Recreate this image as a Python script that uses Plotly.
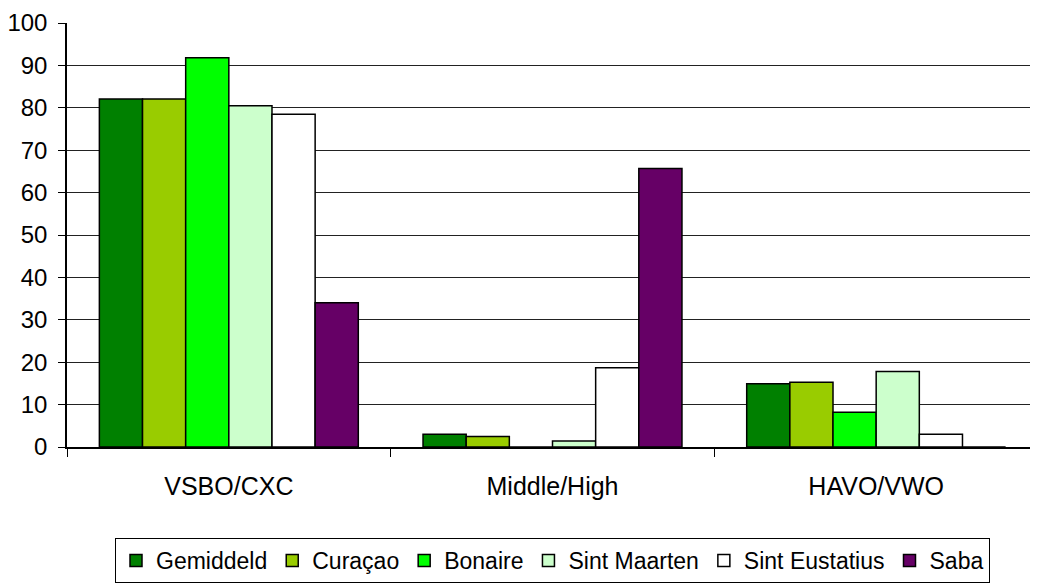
import plotly.graph_objects as go

categories = ["VSBO/CXC", "Middle/High", "HAVO/VWO"]
series_names = ["Gemiddeld", "Curaçao", "Bonaire", "Sint Maarten", "Sint Eustatius", "Saba"]
gemiddeld = [82.1, 3.0, 14.9]
curacao = [82.1, 2.5, 15.3]
bonaire = [91.8, 0.0, 8.2]
sint_maarten = [80.5, 1.4, 17.8]
sint_eustatius = [78.5, 18.7, 3.0]
saba = [34.0, 65.7, 0.0]
colors = ["#008000", "#99CC00", "#00FF00", "#CCFFCC", "#FFFFFF", "#660066"]
y_ticks = [0, 10, 20, 30, 40, 50, 60, 70, 80, 90, 100]

values = [gemiddeld, curacao, bonaire, sint_maarten, sint_eustatius, saba]

fig = go.Figure()
for name, vals, col in zip(series_names, values, colors):
    fig.add_trace(go.Bar(
        x=categories, y=vals, name=name,
        marker=dict(color=col, line=dict(color="#000000", width=1.5)),
    ))

W, H = 1030, 578
fig.update_layout(
    width=W, height=H,
    margin=dict(l=59, r=0, t=15, b=139, autoexpand=False),
    paper_bgcolor="white", plot_bgcolor="white",
    barmode="group", bargap=0.2, bargroupgap=0,
    font=dict(family="Liberation Sans, Arial", size=24, color="black"),
    showlegend=True,
    legend=dict(
        orientation="h", x=0.5, xanchor="center", xref="paper",
        y=1 - 530 / H, yanchor="top", yref="container",
        bordercolor="black", borderwidth=1, bgcolor="white",
        font=dict(size=23), itemwidth=30, tracegroupgap=0,
    ),
)
fig.update_xaxes(
    showline=True, linecolor="black", linewidth=1.5,
    ticks="outside", tickson="boundaries", ticklen=8, tickcolor="black",
    ticklabelstandoff=16, showgrid=False, tickfont=dict(size=25),
)
fig.update_yaxes(
    range=[0, 100], tickvals=y_ticks,
    showline=True, linecolor="black", linewidth=1.5,
    ticks="outside", ticklen=7, tickcolor="black",
    showgrid=True, gridcolor="#222222", gridwidth=1,
    zeroline=False, ticklabelstandoff=6, tickfont=dict(size=24),
)

fig.write_html("out.html")
